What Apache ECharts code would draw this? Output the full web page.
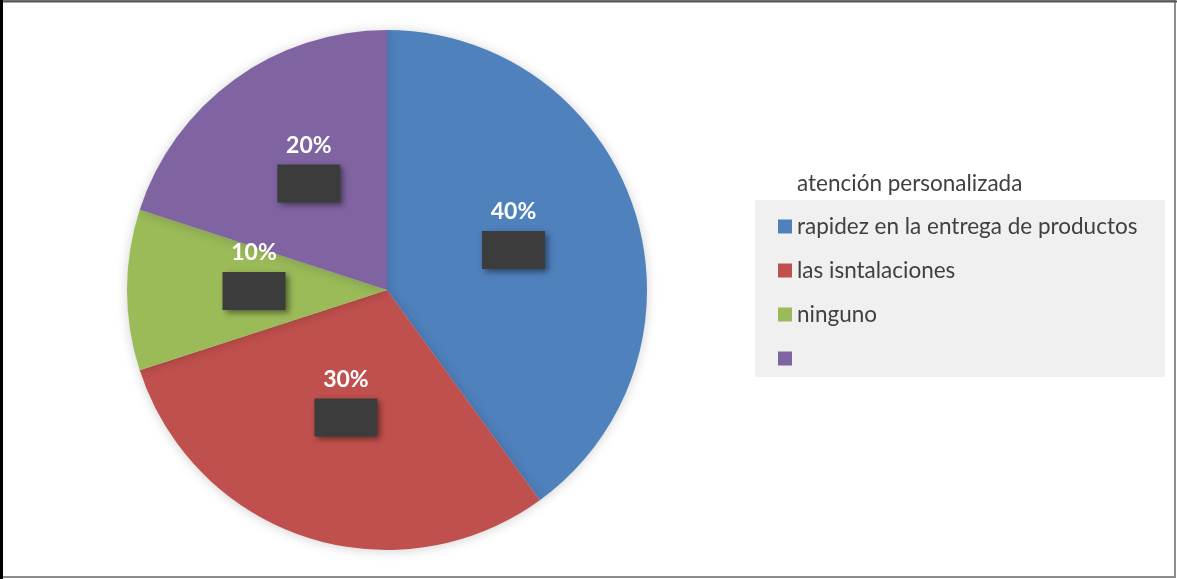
<!DOCTYPE html>
<html>
<head>
<meta charset="utf-8">
<script src="https://cdn.jsdelivr.net/npm/echarts@6/dist/echarts.min.js"></script>
<style>
  html, body { margin: 0; padding: 0; background: #ffffff; }
  #chart { width: 1177px; height: 579px; }
</style>
</head>
<body>
<div id="chart"></div>
<script>
// Survey answers and their shares (percent)
const categories = ['rapidez en la entrega de productos', 'las isntalaciones', 'ninguno', ' '];
const values = [40, 30, 10, 20];
const colors = ['#4f81bd', '#c0504d', '#9bbb59', '#8064a2'];
const legendHeader = 'atención personalizada';

const FONT = 'Lato, "Open Sans", sans-serif';

const chart = echarts.init(document.getElementById('chart'), null, { renderer: 'canvas' });

chart.setOption({
  backgroundColor: '#ffffff',
  animation: false,
  color: colors,
  graphic: [
    // frame around the chart area
    { type: 'rect', shape: { x: 1, y: 1, width: 1174, height: 576 },
      style: { fill: 'none', stroke: '#8c8c8c', lineWidth: 2 }, z: 10 },
    { type: 'line', shape: { x1: 0, y1: 1.5, x2: 1177, y2: 1.5 },
      style: { stroke: '#555555', lineWidth: 2 }, z: 11 },
    { type: 'line', shape: { x1: 1.5, y1: 0, x2: 1.5, y2: 579 },
      style: { stroke: '#000000', lineWidth: 3 }, z: 11 },
    // legend panel
    { type: 'rect', shape: { x: 755, y: 200, width: 410, height: 177 },
      style: { fill: '#f0f0f0' }, z: 0 },
    { type: 'text', left: 797, top: 172,
      style: { text: legendHeader, fontSize: 22.5, fill: '#404040', fontFamily: FONT }, z: 5 }
  ],
  legend: {
    orient: 'vertical',
    left: 755,
    top: 200,
    padding: [15, 10, 10, 23],
    itemWidth: 14,
    itemHeight: 14,
    itemGap: 21,
    icon: 'rect',
    data: categories,
    textStyle: { fontSize: 22.5, color: '#404040', fontFamily: FONT, padding: [0, 0, 0, 0] },
    selectedMode: false,
    z: 5
  },
  series: [{
    type: 'pie',
    center: [387, 290],
    radius: [0, 260],
    startAngle: 90,
    clockwise: true,
    silent: true,
    itemStyle: {
      shadowBlur: 12,
      shadowColor: 'rgba(0,0,0,0.18)',
      shadowOffsetX: 0,
      shadowOffsetY: 1
    },
    label: {
      show: true,
      position: 'inside',
      formatter: '{a|{c}%}\n{b|}\n{c|}',
      rich: {
        a: { fontSize: 23, fontWeight: 'bold', color: '#ffffff', fontFamily: FONT, lineHeight: 24, align: 'center' },
        b: { width: 63, height: 38, lineHeight: 52, backgroundColor: '#3c3c3c',
             shadowBlur: 6, shadowOffsetX: 3, shadowOffsetY: 3, shadowColor: 'rgba(0,0,0,0.45)', align: 'center' },
        c: { height: 22, lineHeight: 22 }
      }
    },
    labelLine: { show: false },
    data: categories.map((name, i) => ({ name: name, value: values[i] }))
  }]
});
</script>
</body>
</html>
